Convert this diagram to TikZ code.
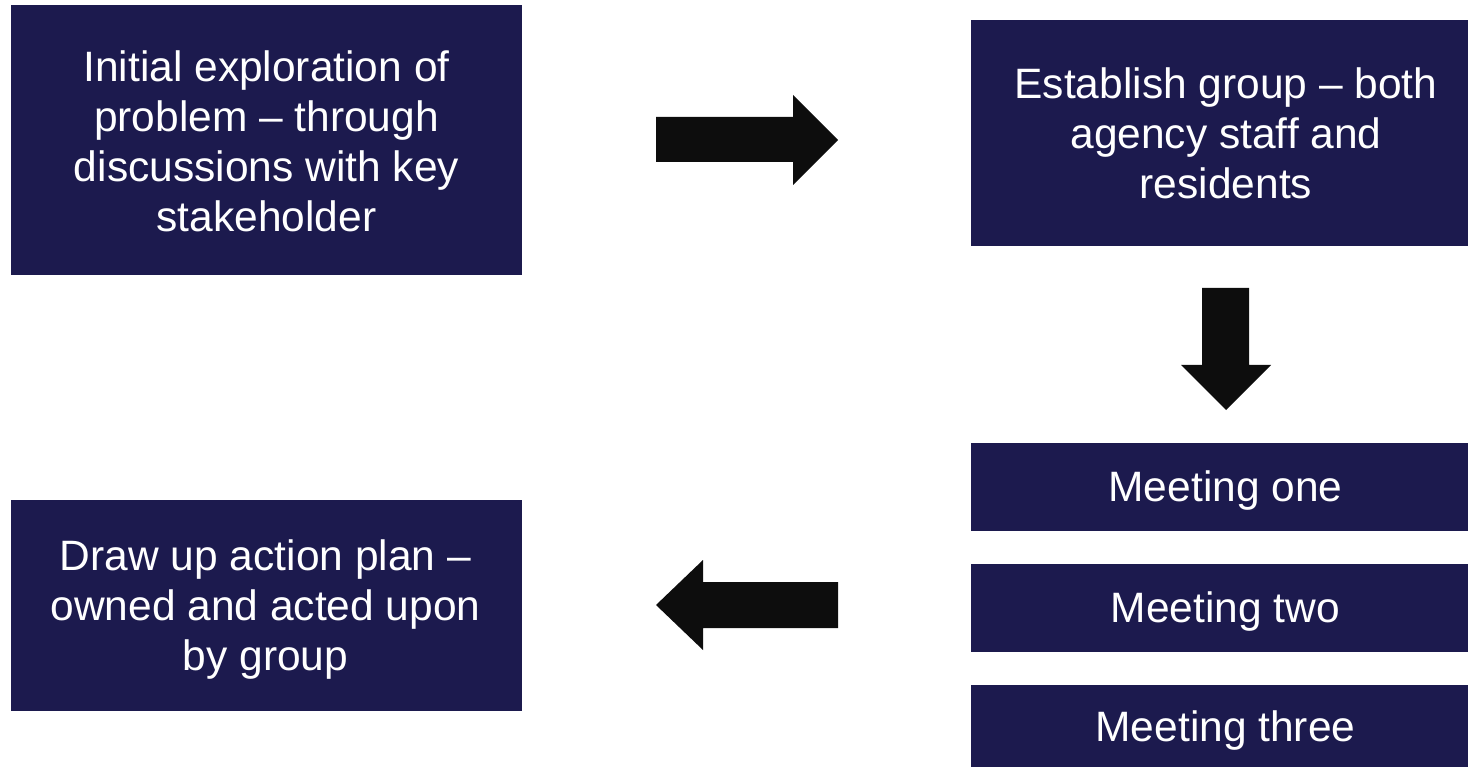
\documentclass[tikz,border=0pt]{standalone}
\usepackage{fontspec}
\setmainfont{Liberation Sans}
\definecolor{navy}{HTML}{1C1A4E}
\definecolor{arrowblack}{HTML}{0D0D0D}
\begin{document}
\begin{tikzpicture}[x=1pt,y=-1pt,
  box/.style={fill=navy, draw=none, inner sep=0pt},
  boxtext/.style={text=white, align=center, inner sep=0pt,
    font=\fontsize{42.5}{50}\selectfont},
  blockarrow/.style={fill=arrowblack, draw=none}]
\useasboundingbox (0,0) rectangle (1468,767);
\node[box, minimum width=511pt, minimum height=270pt] (init) at (266.5,140) {};
\node[boxtext] (initT) at (266.5,141)
  {Initial exploration of\\problem – through\\discussions with key\\stakeholder};
\node[box, minimum width=497pt, minimum height=226pt] (group) at (1219.5,133) {};
\node[boxtext] (groupT) at (1226,133)
  {Establish group – both\\agency staff and\\residents};
\node[box, minimum width=497pt, minimum height=88pt] (m1) at (1219.5,487) {};
\node[boxtext] (m1T) at (1225.5,491) {Meeting one};
\node[box, minimum width=497pt, minimum height=88pt] (m2) at (1219.5,607.5) {};
\node[boxtext] (m2T) at (1225.5,611.5) {Meeting two};
\node[box, minimum width=497pt, minimum height=82pt] (m3) at (1219.5,726) {};
\node[boxtext] (m3T) at (1225.5,731) {Meeting three};
\node[box, minimum width=511pt, minimum height=211pt] (plan) at (266.5,605.5) {};
\node[boxtext] (planT) at (265.5,609.5)
  {Draw up action plan –\\owned and acted upon\\by group};
% block arrows
\fill[blockarrow] (656,117) -- (793,117) -- (793,95) -- (838,140) -- (793,185) -- (793,162) -- (656,162) -- cycle;
\fill[blockarrow] (1202,288) -- (1249,288) -- (1249,365) -- (1271,365) -- (1226,410) -- (1181,365) -- (1202,365) -- cycle;
\fill[blockarrow] (838,582) -- (703,582) -- (703,560) -- (656,605) -- (703,650) -- (703,628) -- (838,628) -- cycle;
\end{tikzpicture}
\end{document}
